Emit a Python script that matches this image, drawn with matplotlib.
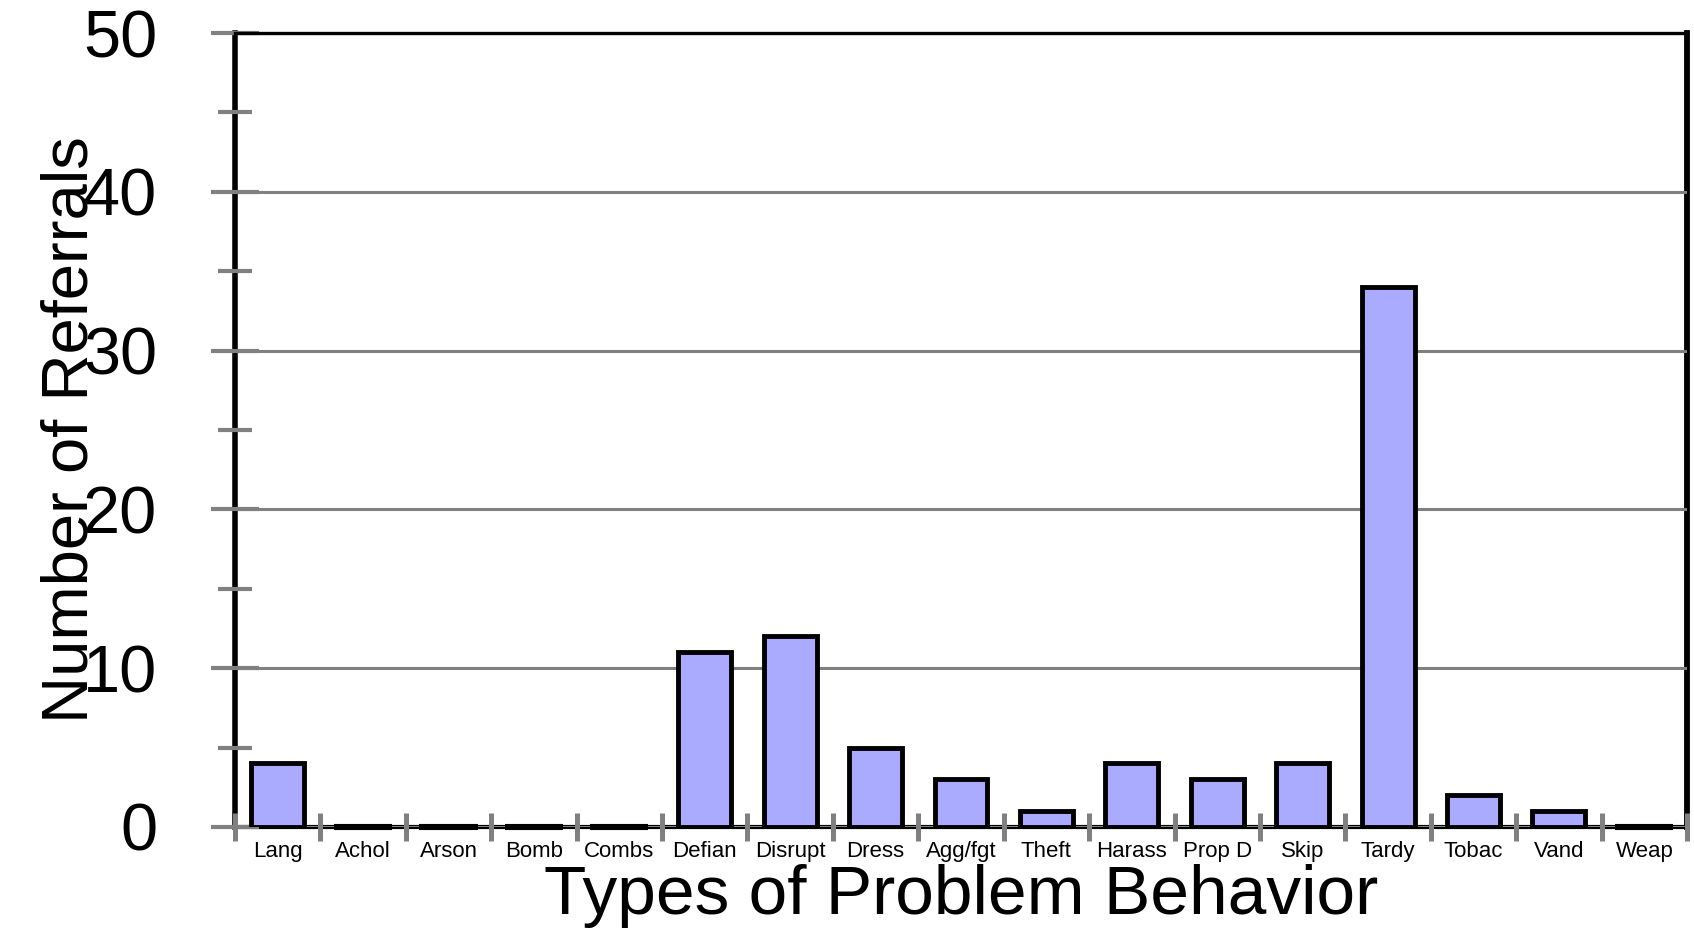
import matplotlib
matplotlib.use("Agg")
import matplotlib.pyplot as plt
import numpy as np

# referral counts per behavior category
categories = ['Lang', 'Achol', 'Arson', 'Bomb', 'Combs', 'Defian', 'Disrupt',
              'Dress', 'Agg/fgt', 'Theft', 'Harass', 'Prop D', 'Skip', 'Tardy',
              'Tobac', 'Vand', 'Weap']
referrals = [4, 0, 0, 0, 0, 11, 12, 5, 3, 1, 4, 3, 4, 34, 2, 1, 0]
y_major = [0, 10, 20, 30, 40, 50]
y_minor = [5, 15, 25, 35, 45]

plt.rcParams['font.family'] = ['Liberation Sans', 'DejaVu Sans']

fig = plt.figure(figsize=(16.94, 9.30), dpi=100)
ax = fig.add_axes([0.1387, 0.1108, 0.8572, 0.8537])

x = np.arange(len(categories))
bar_w = 0.62
ax.bar(x, referrals, width=bar_w, color='#AAAAFF', edgecolor='black',
       linewidth=3.5, zorder=3)

# empty categories get a flat black bar sitting on the axis
vals = np.array(referrals)
empty = x[vals == 0]
ax.hlines(vals[vals == 0], empty - bar_w / 2 - 0.03, empty + bar_w / 2 + 0.03,
          color='black', linewidth=4.4, zorder=3, clip_on=False)

ax.set_xlim(-0.5, len(categories) - 0.5)
ax.set_ylim(0, 50)

# gray separators between categories, names centred under the bars
ax.set_xticks(np.arange(len(categories) + 1) - 0.5)
ax.set_xticklabels([])
ax.set_xticks(x, labels=categories, minor=True)
ax.tick_params(axis='x', which='major', direction='inout', length=19.5,
               width=3.6, color='#808080')
ax.tick_params(axis='x', which='minor', length=0, pad=10, labelsize=16)

ax.set_yticks(y_major)
ax.set_yticks(y_minor, minor=True)
ax.tick_params(axis='y', which='major', direction='inout', length=35,
               width=3, color='#808080', labelsize=48, pad=38.5)
ax.tick_params(axis='y', which='minor', direction='inout', length=25,
               width=3, color='#808080')

ax.set_axisbelow(False)
ax.grid(axis='y', which='major', color='#808080', linewidth=2.2)

for side, lw in [('left', 4), ('bottom', 3), ('right', 4.2), ('top', 2.4)]:
    ax.spines[side].set_linewidth(lw)
    ax.spines[side].set_color('black')
    ax.spines[side].set_zorder(2.4)
ax.spines['top'].set_zorder(2.6)

ax.set_ylabel('Number of Referrals', fontsize=47)
ax.yaxis.set_label_coords(-0.0925, 0.5)
ax.set_xlabel('Types of Problem Behavior', fontsize=50)
ax.xaxis.set_label_coords(0.5, -0.047)

fig.savefig('out.png', dpi=100)
